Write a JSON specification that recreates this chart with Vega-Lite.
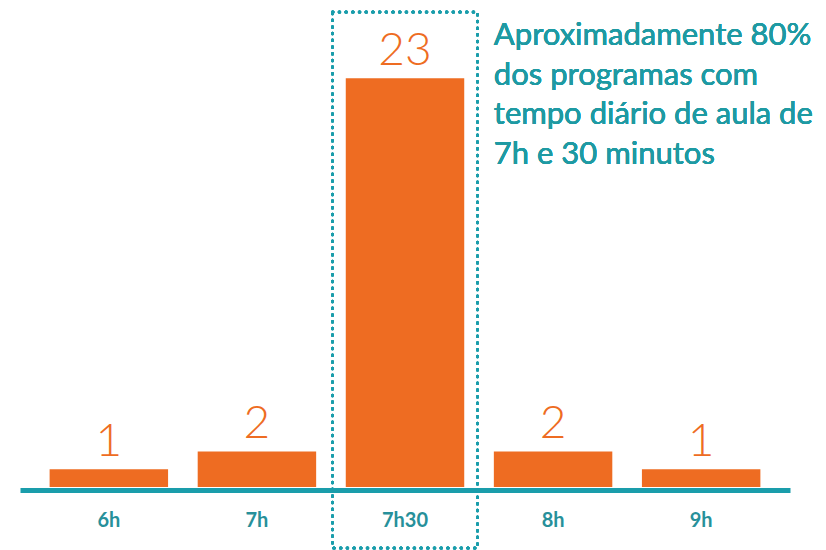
{
  "$schema": "https://vega.github.io/schema/vega-lite/v6.json",
  "autosize": "none",
  "padding": {"left": 20, "right": 36, "top": 0, "bottom": 63},
  "width": 770,
  "height": 487,
  "background": "white",
  "config": {"view": {"stroke": null}},
  "data": {"values": [
    {"duracao": "6h", "programas": 1},
    {"duracao": "7h", "programas": 2},
    {"duracao": "7h30", "programas": 23},
    {"duracao": "8h", "programas": 2},
    {"duracao": "9h", "programas": 1}
  ]},
  "encoding": {
    "x": {
      "field": "duracao", "type": "nominal", "sort": null,
      "scale": {"paddingInner": 0.2, "paddingOuter": 0.2},
      "axis": {
        "title": null, "labelAngle": 0, "ticks": false, "grid": false,
        "domainColor": "#1A9DAB", "domainWidth": 5, "offset": 3,
        "labelFont": "Lato", "labelFontWeight": "bold", "labelFontSize": 20,
        "labelColor": "#27909A", "labelPadding": 20
      }
    }
  },
  "layer": [
    {
      "mark": {"type": "bar", "color": "#EE6C22"},
      "encoding": {
        "y": {"field": "programas", "type": "quantitative", "scale": {"domain": [0, 27.4], "nice": false}, "axis": null}
      }
    },
    {
      "mark": {"type": "text", "font": "Lato", "fontWeight": 300, "fontSize": 46, "color": "#EE6C22", "baseline": "bottom", "dy": -3},
      "encoding": {
        "y": {"field": "programas", "type": "quantitative"},
        "text": {"field": "programas", "type": "quantitative"}
      }
    },
    {
      "mark": {"type": "bar", "width": 145, "fill": null, "fillOpacity": 0, "stroke": "#1A9DAB", "strokeWidth": 3, "strokeDash": [0.5, 6.2], "strokeCap": "round"},
      "encoding": {
        "x": {"datum": "7h30"},
        "y": {"datum": 26.72},
        "y2": {"datum": -3.43}
      }
    },
    {
      "mark": {"type": "text", "font": "Lato", "fontSize": 31, "color": "#1E9AA3", "align": "left", "baseline": "top", "lineHeight": 39.5,
        "text": ["Aproximadamente 80%", "dos programas com", "tempo diário de aula de", "7h e 30 minutos"]},
      "encoding": {
        "x": {"datum": "8h", "bandPosition": 0},
        "y": {"datum": 26.2}
      }
    }
  ]
}
